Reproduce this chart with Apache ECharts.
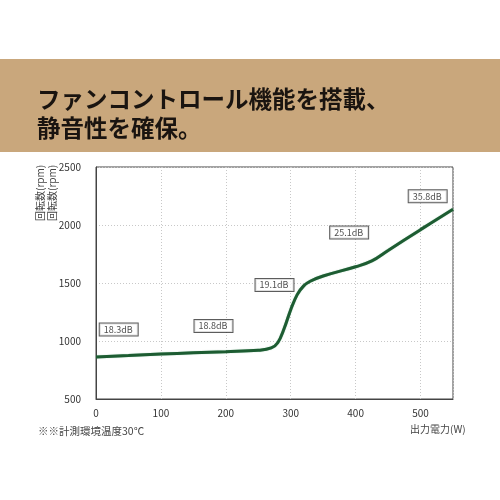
<!DOCTYPE html>
<html><head><meta charset="utf-8">
<script src="https://cdn.jsdelivr.net/npm/echarts@6/dist/echarts.min.js"></script>
<style>html,body{margin:0;padding:0;background:#fff}#c{width:500px;height:500px}</style>
</head><body><div id="c"></div>
<script>
const titleLines = ['ファンコントロール機能を搭載、', '静音性を確保。'];
const powerW = [0, 50, 100, 150, 200, 250, 270, 280, 290, 300, 310, 320, 330, 350, 400, 425, 450, 500, 550];
const rpm = [862, 875, 888, 898, 908, 920, 940, 985, 1110, 1270, 1400, 1475, 1515, 1560, 1640, 1690, 1780, 1960, 2135];
const noiseText = ['18.3dB', '18.8dB', '19.1dB', '25.1dB', '35.8dB'];
const noiseX = [35, 181, 275, 390, 511];
const noiseY = [1099, 1129, 1483, 1935, 2247];
const yAxisName = '回転数(rpm)';
const xAxisName = '出力電力(W)';
const note = '※※計測環境温度30℃';

const font = '"Noto Sans CJK JP", "Noto Sans", sans-serif';
const chart = echarts.init(document.getElementById('c'));
chart.setOption({
  animation: false,
  backgroundColor: '#fff',
  textStyle: { fontFamily: font },
  graphic: [
    { type: 'rect', left: 0, top: 59, shape: { width: 500, height: 93 }, style: { fill: '#c9a77c' } },
    { type: 'text', left: 37, top: 87, style: { text: titleLines[0], font: 'bold 23.5px ' + font, fill: '#1a1410' } },
    { type: 'text', left: 37, top: 116, style: { text: titleLines[1], font: 'bold 23.5px ' + font, fill: '#1a1410' } },
    { type: 'text', x: 35, y: 221, rotation: Math.PI / 2, style: { text: yAxisName, font: '10px ' + font, fill: '#444' } },
    { type: 'text', x: 47, y: 221, rotation: Math.PI / 2, style: { text: yAxisName, font: '10px ' + font, fill: '#444' } },
    { type: 'text', left: 38, top: 426, style: { text: note, font: '10.5px ' + font, fill: '#444' } },
    { type: 'text', left: 410, top: 424, style: { text: xAxisName, font: '10px ' + font, fill: '#444' } }
  ],
  grid: { left: 96, right: 47, top: 167, bottom: 101, show: true, borderColor: '#444', borderWidth: 1 },
  xAxis: {
    type: 'value', min: 0, max: 550, interval: 100,
    axisLine: { show: true, lineStyle: { color: '#444' } },
    axisTick: { show: false },
    axisLabel: { color: '#333', fontSize: 10, margin: 9, showMaxLabel: false, formatter: v => String(v) },
    splitLine: { show: true, lineStyle: { color: '#c8c8c8', type: [1, 2] } }
  },
  yAxis: {
    type: 'value', min: 500, max: 2500, interval: 500,
    axisLine: { show: true, lineStyle: { color: '#444' } },
    axisTick: { show: false },
    axisLabel: { color: '#333', fontSize: 10, margin: 15, formatter: v => String(v) },
    splitLine: { show: true, lineStyle: { color: '#c8c8c8', type: [1, 2] } }
  },
  series: [
    {
      type: 'line', smooth: 0.4, symbol: 'none',
      data: powerW.map((x, i) => [x, rpm[i]]),
      lineStyle: { color: '#1d5c32', width: 3, shadowColor: 'rgba(40,140,80,0.5)', shadowBlur: 1 },
      z: 3
    },
    {
      type: 'scatter', symbolSize: 0,
      data: noiseX.map((x, i) => ({ value: [x, noiseY[i]], name: noiseText[i] })),
      label: {
        show: true, position: 'inside', formatter: p => p.name,
        color: '#222', fontSize: 9, fontFamily: font,
        backgroundColor: '#fff', borderColor: '#333', borderWidth: 1,
        padding: [2, 5, 1, 4]
      },
      z: 4
    }
  ]
});
</script></body></html>
